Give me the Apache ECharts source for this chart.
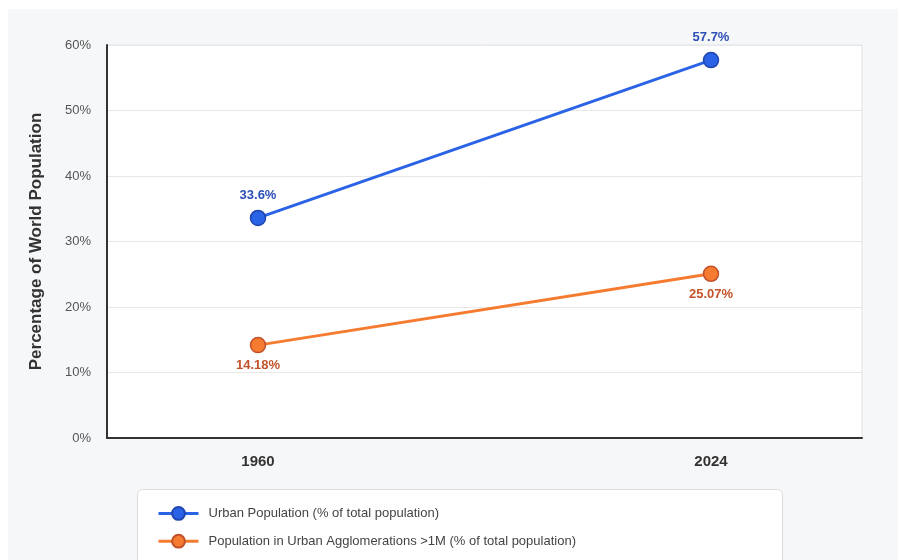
<!DOCTYPE html>
<html>
<head>
<meta charset="utf-8">
<script src="https://cdn.jsdelivr.net/npm/echarts@6/dist/echarts.min.js"></script>
<style>
  html, body { margin: 0; padding: 0; background: #ffffff; }
  #panel { position: absolute; left: 8px; top: 9px; width: 890px; height: 551px; background: #f6f7f9; }
  #chart { position: absolute; left: 0; top: 0; width: 899px; height: 560px; }
</style>
</head>
<body>
<div id="panel"></div>
<div id="chart"></div>
<script>
// Years shown on the x axis
const years = [1960, 2024];
// Urban population, % of total population
const urbanShare = [33.6, 57.7];
// Population in urban agglomerations > 1 million, % of total population
const agglomerationShare = [14.18, 25.07];
const seriesNames = [
  'Urban Population (% of total population)',
  'Population in Urban Agglomerations >1M (% of total population)'
];
const yAxisTitle = 'Percentage of World Population';

const FONT = "'Liberation Sans', Arial, Helvetica, sans-serif";
// Pad the year range so the two points sit at 20% / 80% of the plot width
const span = years[1] - years[0];
const xMin = years[0] - span / 3;
const xMax = years[1] + span / 3;

const chart = echarts.init(document.getElementById('chart'), null, { renderer: 'canvas' });

function pairs(vals) { return years.map((y, i) => [y, vals[i]]); }

chart.setOption({
  backgroundColor: 'transparent',
  textStyle: { fontFamily: FONT },
  animation: false,
  grid: {
    left: 107, right: 37, top: 45, bottom: 122,
    show: true, backgroundColor: '#ffffff', borderColor: '#e3e3e3', borderWidth: 1
  },
  graphic: [{
    // legend card, running off the bottom edge
    type: 'rect', left: 137, top: 489, z: -1, silent: true,
    shape: { width: 645, height: 90, r: 5 },
    style: { fill: '#ffffff', stroke: '#dcdcdc', lineWidth: 1 }
  }],
  legend: {
    orient: 'vertical',
    left: 157, top: 506,
    padding: 0,
    itemGap: 13,
    itemWidth: 40, itemHeight: 16,
    lineStyle: { width: 3 },
    textStyle: { fontFamily: FONT, fontSize: 13, color: '#444', padding: [0, 0, 0, 5] },
    data: seriesNames
  },
  xAxis: {
    type: 'value', min: xMin, max: xMax,
    splitLine: { show: false },
    axisLine: { show: true, lineStyle: { color: '#333', width: 2 } },
    axisTick: { show: false },
    axisLabel: {
      customValues: years,
      formatter: v => String(Math.round(v)),
      fontFamily: FONT, fontSize: 15, fontWeight: 'bold', color: '#333', margin: 16
    }
  },
  yAxis: {
    type: 'value', min: 0, max: 60, interval: 10,
    name: yAxisTitle, nameLocation: 'middle', nameGap: 62,
    nameTextStyle: { fontFamily: FONT, fontSize: 17, fontWeight: 'bold', color: '#333' },
    axisLine: { show: true, lineStyle: { color: '#333', width: 2 } },
    axisTick: { show: false },
    axisLabel: { formatter: '{value}%', fontFamily: FONT, fontSize: 13, color: '#555', margin: 16 },
    splitLine: { lineStyle: { color: '#e8e8e8', width: 1 } }
  },
  series: [
    {
      name: seriesNames[0], type: 'line', data: pairs(urbanShare),
      symbol: 'circle', symbolSize: 15,
      lineStyle: { color: '#2b63e6', width: 3 },
      itemStyle: { color: '#2b63e6', borderColor: '#1f45b0', borderWidth: 1.5 },
      label: {
        show: true, position: 'top', distance: 8,
        formatter: p => p.value[1] + '%',
        fontFamily: FONT, fontSize: 13, fontWeight: 'bold', color: '#2c4fb5'
      },
      z: 3
    },
    {
      name: seriesNames[1], type: 'line', data: pairs(agglomerationShare),
      symbol: 'circle', symbolSize: 15,
      lineStyle: { color: '#f47b2f', width: 3 },
      itemStyle: { color: '#f47b2f', borderColor: '#c2502a', borderWidth: 1.5 },
      label: {
        show: true, position: 'bottom', distance: 6,
        formatter: p => p.value[1] + '%',
        fontFamily: FONT, fontSize: 13, fontWeight: 'bold', color: '#c4532b'
      },
      z: 3
    }
  ]
});
</script>
</body>
</html>
